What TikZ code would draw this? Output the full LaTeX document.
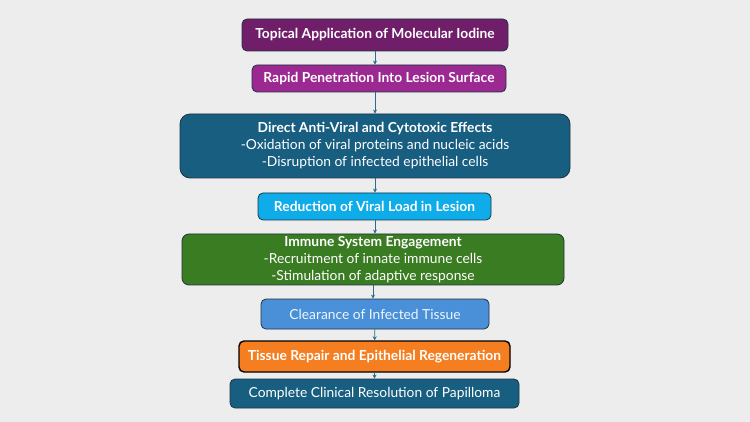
\documentclass[tikz,border=0pt]{standalone}
\usepackage{fontspec}
\setmainfont{Lato}
\usetikzlibrary{arrows.meta,positioning}
\definecolor{bgGray}{RGB}{237,237,237}
\definecolor{plumDark}{RGB}{112,30,106}
\definecolor{plumMid}{RGB}{156,40,146}
\definecolor{tealDark}{RGB}{24,94,128}
\definecolor{skyBlue}{RGB}{14,172,232}
\definecolor{leafGreen}{RGB}{58,124,34}
\definecolor{softBlue}{RGB}{74,144,217}
\definecolor{carrot}{RGB}{244,126,32}
\definecolor{edgeDark}{RGB}{28,52,66}
\definecolor{arrowBlue}{RGB}{46,106,138}

\begin{document}
\begin{tikzpicture}[x=1pt,y=-1pt,
    box/.style={draw=edgeDark,line width=0.8pt,rounded corners=5pt,text=white,
      align=center,inner sep=0pt,font=\fontsize{13.8}{17}\selectfont},
    flow/.style={-{Stealth[length=4pt,width=4pt]},arrowBlue,line width=0.8pt}]
  % background
  \fill[bgGray] (0,0) rectangle (750,422);
  \useasboundingbox (0,0) rectangle (750,422);
  % steps
  \node[box,fill=plumDark,minimum width=266pt,minimum height=32pt] (topical) at (375,35)
    {\textbf{Topical Application of Molecular Iodine}};
  \node[box,fill=plumMid,minimum width=254pt,minimum height=27pt] (rapid) at (379,78.5)
    {\textbf{Rapid Penetration Into Lesion Surface}};
  \node[box,fill=tealDark,rounded corners=10pt,minimum width=390pt,minimum height=64pt] (direct) at (375,146)
    {\textbf{Direct Anti-Viral and Cytotoxic Effects}\\-Oxidation of viral proteins and nucleic acids\\-Disruption of infected epithelial cells};
  \node[box,fill=skyBlue,minimum width=233pt,minimum height=27pt] (viral) at (374.5,206.5)
    {\textbf{Reduction of Viral Load in Lesion}};
  \node[box,fill=leafGreen,rounded corners=7pt,minimum width=382pt,minimum height=51pt] (immune) at (373,259.5)
    {\textbf{Immune System Engagement}\\-Recruitment of innate immune cells\\-Stimulation of adaptive response};
  \node[box,fill=softBlue,text=white!92!softBlue,minimum width=228pt,minimum height=30pt] (clear) at (375,314)
    {Clearance of Infected Tissue};
  \node[box,fill=carrot,draw=black,line width=1.4pt,minimum width=271pt,minimum height=31pt] (repair) at (374.5,356.5)
    {\textbf{Tissue Repair and Epithelial Regeneration}};
  \node[box,fill=tealDark,minimum width=289pt,minimum height=29pt] (resolve) at (374.5,393.5)
    {Complete Clinical Resolution of Papilloma};
  % connectors
  \draw[flow] (topical) -- (rapid.north -| topical);
  \draw[flow] (rapid.south -| topical) -- (direct);
  \draw[flow] (direct) -- (viral.north -| direct);
  \draw[flow] (viral.south -| direct) -- (immune.north -| direct);
  \draw[flow] (immune) -- (clear.north -| immune);
  \draw[flow] (clear) -- (repair);
  \draw[flow] (repair) -- (resolve);
\end{tikzpicture}
\end{document}
